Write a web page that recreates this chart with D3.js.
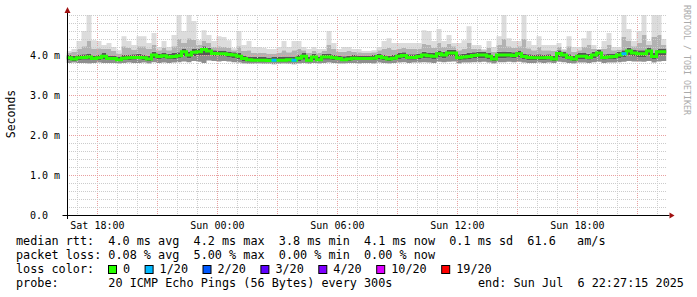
<!DOCTYPE html>
<html>
<head>
<meta charset="utf-8">
<script src="https://cdn.jsdelivr.net/npm/d3@7"></script>
<style>
  body { margin: 0; background: #fff; }
  text { font-family: "DejaVu Sans Mono", monospace; white-space: pre; }
</style>
</head>
<body>
<svg id="chart" width="697" height="297"></svg>
<script>
/**
 * Chart data, one value every 15 minutes (ms).
 */
var startTime = new Date(2025, 6, 5, 16, 27, 15);
var endTime = new Date(2025, 6, 6, 22, 27, 15);
var stepMinutes = 15;

var medianRtt = [
    3.93, 3.90, 3.93, 3.94, 3.95, 3.91, 3.93, 3.97, 3.91, 3.91,
    3.88, 3.92, 3.93, 3.94, 3.94, 3.93, 3.90, 4.00, 3.96, 3.98,
    3.95, 3.96, 3.98, 4.08, 4.00, 4.07, 4.08, 4.14, 4.10, 4.04,
    4.03, 4.03, 4.01, 4.00, 3.97, 3.91, 3.88, 3.87, 3.87, 3.87,
    3.86, 3.87, 3.87, 3.87, 3.88, 3.87, 3.92, 3.97, 3.87, 3.95,
    3.88, 3.95, 3.95, 3.93, 3.91, 3.88, 3.90, 3.92, 3.91, 3.91,
    3.91, 3.92, 3.96, 3.93, 3.90, 3.92, 3.97, 3.99, 3.94, 3.94,
    3.96, 4.00, 3.98, 3.97, 4.03, 4.00, 4.05, 4.05, 3.93, 3.95,
    3.96, 3.99, 4.00, 4.00, 3.97, 3.90, 4.00, 4.00, 4.00, 3.99,
    4.03, 3.96, 3.94, 3.93, 3.93, 3.93, 3.94, 3.90, 4.04, 4.00,
    3.94, 3.90, 3.97, 3.97, 3.94, 4.00, 4.05, 3.94, 3.95, 3.96,
    4.00, 4.03, 4.10, 4.05, 4.03, 4.03, 4.10, 3.96, 4.08, 4.08
];
var minPing = [
    3.80, 3.81, 3.80, 3.80, 3.79, 3.80, 3.81, 3.80, 3.80, 3.80,
    3.79, 3.80, 3.81, 3.80, 3.80, 3.81, 3.79, 3.82, 3.80, 3.81,
    3.80, 3.81, 3.82, 3.84, 3.82, 3.85, 3.83, 3.80, 3.86, 3.85,
    3.84, 3.85, 3.84, 3.82, 3.81, 3.79, 3.78, 3.78, 3.79, 3.78,
    3.78, 3.77, 3.78, 3.79, 3.78, 3.77, 3.79, 3.80, 3.78, 3.80,
    3.79, 3.80, 3.81, 3.80, 3.79, 3.79, 3.80, 3.80, 3.79, 3.80,
    3.80, 3.79, 3.81, 3.80, 3.79, 3.80, 3.81, 3.82, 3.80, 3.81,
    3.81, 3.82, 3.81, 3.80, 3.83, 3.82, 3.83, 3.84, 3.79, 3.81,
    3.81, 3.82, 3.82, 3.83, 3.81, 3.79, 3.82, 3.82, 3.83, 3.82,
    3.83, 3.81, 3.80, 3.80, 3.81, 3.80, 3.81, 3.80, 3.83, 3.82,
    3.80, 3.79, 3.81, 3.81, 3.80, 3.82, 3.83, 3.80, 3.81, 3.81,
    3.82, 3.83, 3.85, 3.84, 3.84, 3.83, 3.85, 3.81, 3.84, 3.85
];
var lowQuart = [
    3.87, 3.85, 3.87, 3.88, 3.88, 3.86, 3.87, 3.90, 3.86, 3.86,
    3.84, 3.87, 3.87, 3.88, 3.89, 3.87, 3.85, 3.91, 3.89, 3.91,
    3.89, 3.90, 3.91, 3.97, 3.92, 3.97, 3.98, 3.99, 4.00, 3.96,
    3.96, 3.96, 3.94, 3.92, 3.90, 3.85, 3.83, 3.83, 3.83, 3.83,
    3.82, 3.82, 3.83, 3.83, 3.83, 3.82, 3.85, 3.88, 3.83, 3.87,
    3.84, 3.88, 3.88, 3.87, 3.86, 3.84, 3.85, 3.87, 3.86, 3.86,
    3.86, 3.86, 3.89, 3.87, 3.85, 3.87, 3.90, 3.92, 3.88, 3.88,
    3.89, 3.92, 3.91, 3.90, 3.95, 3.92, 3.96, 3.96, 3.86, 3.88,
    3.89, 3.91, 3.92, 3.92, 3.90, 3.85, 3.92, 3.92, 3.93, 3.92,
    3.95, 3.89, 3.87, 3.87, 3.87, 3.87, 3.88, 3.85, 3.95, 3.92,
    3.88, 3.85, 3.90, 3.90, 3.88, 3.92, 3.96, 3.88, 3.89, 3.89,
    3.92, 3.95, 4.00, 3.96, 3.95, 3.95, 4.00, 3.90, 3.98, 3.99
];
var highQuart = [
    4.00, 3.98, 4.01, 4.02, 4.04, 3.99, 4.01, 4.05, 3.99, 3.99,
    3.96, 4.00, 4.01, 4.02, 4.03, 4.01, 3.98, 4.08, 4.04, 4.06,
    4.03, 4.05, 4.07, 4.16, 4.09, 4.16, 4.16, 4.22, 4.19, 4.12,
    4.11, 4.11, 4.09, 4.07, 4.05, 3.99, 3.96, 3.95, 3.95, 3.95,
    3.94, 3.95, 3.95, 3.96, 3.96, 3.96, 4.01, 4.05, 3.96, 4.03,
    3.96, 4.03, 4.04, 4.01, 3.99, 3.97, 3.98, 4.00, 3.99, 3.99,
    3.99, 4.00, 4.04, 4.01, 3.98, 4.00, 4.05, 4.07, 4.02, 4.02,
    4.04, 4.08, 4.06, 4.05, 4.11, 4.08, 4.13, 4.13, 4.02, 4.03,
    4.05, 4.07, 4.08, 4.08, 4.05, 3.99, 4.08, 4.09, 4.08, 4.07,
    4.11, 4.04, 4.02, 4.01, 4.02, 4.01, 4.02, 3.98, 4.12, 4.08,
    4.02, 3.98, 4.05, 4.06, 4.03, 4.08, 4.13, 4.02, 4.04, 4.04,
    4.08, 4.12, 4.18, 4.14, 4.12, 4.12, 4.19, 4.05, 4.16, 4.16
];
var ping90 = [
    4.06, 4.08, 4.15, 4.22, 4.35, 4.16, 4.17, 4.15, 4.15, 4.10,
    4.04, 4.22, 4.18, 4.14, 4.22, 4.22, 4.15, 4.25, 4.12, 4.18,
    4.12, 4.22, 4.40, 4.30, 4.42, 4.38, 4.25, 4.35, 4.30, 4.20,
    4.22, 4.20, 4.18, 4.12, 4.22, 4.10, 4.12, 4.05, 4.06, 4.05,
    4.04, 4.04, 4.06, 4.12, 4.07, 4.12, 4.15, 4.12, 4.05, 4.10,
    4.06, 4.10, 4.25, 4.15, 4.08, 4.08, 4.10, 4.08, 4.07, 4.06,
    4.06, 4.07, 4.12, 4.15, 4.18, 4.14, 4.16, 4.18, 4.15, 4.15,
    4.16, 4.28, 4.25, 4.18, 4.30, 4.20, 4.28, 4.22, 4.12, 4.15,
    4.30, 4.15, 4.15, 4.12, 4.18, 4.08, 4.25, 4.40, 4.22, 4.18,
    4.22, 4.40, 4.17, 4.12, 4.20, 4.12, 4.12, 4.10, 4.20, 4.12,
    4.22, 4.08, 4.12, 4.20, 4.25, 4.15, 4.15, 4.15, 4.25, 4.12,
    4.14, 4.45, 4.35, 4.22, 4.30, 4.50, 4.25, 4.45, 4.50, 4.25
];
var maxPing = [
    4.10, 4.15, 4.35, 4.60, 5.10, 4.37, 4.35, 4.25, 4.30, 4.20,
    4.12, 4.47, 4.35, 4.25, 4.47, 4.47, 4.30, 4.55, 4.20, 4.35,
    4.20, 4.50, 5.10, 4.60, 5.10, 4.85, 4.37, 4.62, 4.50, 4.35,
    4.47, 4.45, 4.37, 4.17, 4.60, 4.25, 4.35, 4.20, 4.20, 4.18,
    4.15, 4.15, 4.20, 4.35, 4.20, 4.35, 4.35, 4.20, 4.15, 4.20,
    4.15, 4.15, 4.60, 4.30, 4.15, 4.20, 4.20, 4.15, 4.15, 4.10,
    4.10, 4.12, 4.20, 4.35, 4.42, 4.30, 4.30, 4.30, 4.30, 4.30,
    4.30, 4.62, 4.60, 4.35, 4.65, 4.35, 4.50, 4.30, 4.30, 4.37,
    4.72, 4.25, 4.25, 4.15, 4.35, 4.20, 4.47, 5.10, 4.42, 4.35,
    4.35, 5.10, 4.35, 4.25, 4.47, 4.25, 4.25, 4.25, 4.30, 4.15,
    4.47, 4.20, 4.20, 4.42, 4.60, 4.25, 4.15, 4.35, 4.55, 4.20,
    4.20, 5.10, 4.65, 4.35, 4.60, 5.10, 4.35, 5.10, 5.10, 4.40
];
// lost pings out of 20 per step
var lossCount = [
    0, 0, 0, 0, 0, 0, 0, 0, 0, 0, 0, 0, 0, 0, 0, 0, 0, 0, 0, 0,
    0, 0, 0, 0, 0, 0, 0, 0, 0, 0, 0, 0, 0, 0, 0, 0, 0, 0, 0, 0,
    0, 1, 0, 0, 0, 1, 0, 0, 0, 0, 0, 0, 0, 0, 0, 0, 0, 0, 0, 0,
    0, 0, 0, 0, 0, 0, 0, 0, 0, 0, 0, 0, 0, 0, 0, 0, 0, 0, 0, 0,
    0, 0, 0, 0, 0, 0, 0, 0, 0, 0, 0, 0, 0, 0, 0, 0, 0, 0, 0, 0,
    0, 0, 0, 0, 0, 0, 0, 0, 0, 0, 0, 1, 0, 0, 0, 0, 0, 0, 0, 0
];

var yTicks = [0, 1, 2, 3, 4];
var yTickLabels = ["0.0", "1.0 m", "2.0 m", "3.0 m", "4.0 m"];
var lossLabels = ["0", "1/20", "2/20", "3/20", "4/20", "10/20", "19/20"];
var lossSteps = [0, 1, 2, 3, 4, 10, 19];
var lossColors = ["#26ff00", "#00b8ff", "#0059ff", "#5e00ff", "#7e00ff", "#dd00ff", "#ff0000"];
var legendLines = [
    "median rtt:  4.0 ms avg  4.2 ms max  3.8 ms min  4.1 ms now  0.1 ms sd  61.6   am/s",
    "packet loss: 0.08 % avg  5.00 % max  0.00 % min  0.00 % now",
    "loss color:",
    "probe:       20 ICMP Echo Pings (56 Bytes) every 300s"
];
var endLabel = "end: Sun Jul  6 22:27:15 2025";

var svg = d3.select("#chart");
var plotL = 66.5, plotR = 666.5, plotT = 15, plotB = 215;

var x = d3.scaleTime().domain([startTime, endTime]).range([plotL, plotR]);
var y = d3.scaleLinear().domain([0, 5]).range([plotB, plotT]);

// one row per step, last row repeated at the end time for the step curve
var rows = medianRtt.map(function(d, i) {
    return {
        t: d3.timeMinute.offset(startTime, i * stepMinutes),
        med: d, lo: minPing[i], q1: lowQuart[i], q3: highQuart[i],
        p90: ping90[i], hi: maxPing[i], loss: lossCount[i]
    };
});
rows.push(Object.assign({}, rows[rows.length - 1], {t: endTime}));

svg.append("clipPath").attr("id", "plot")
    .append("rect")
    .attr("x", plotL).attr("y", plotT)
    .attr("width", plotR - plotL).attr("height", plotB - plotT);

// smoke bands, darkest around the median
var bands = [
    ["lo", "q1", "#8e8e8e"],
    ["q1", "q3", "#575757"],
    ["q3", "p90", "#b2b2b2"],
    ["p90", "hi", "#dcdcdc"]
];
var smoke = svg.append("g").attr("clip-path", "url(#plot)");
bands.forEach(function(b) {
    smoke.append("path")
        .datum(rows)
        .attr("fill", b[2])
        .attr("d", d3.area()
            .curve(d3.curveStepAfter)
            .x(function(d) { return x(d.t); })
            .y0(function(d) { return y(d[b[0]]); })
            .y1(function(d) { return y(d[b[1]]); }));
});

// grid
var grid = svg.append("g").attr("shape-rendering", "crispEdges");
var hours = d3.timeHour.range(startTime, endTime);
hours.forEach(function(h) {
    var major = h.getHours() % 3 === 0;
    grid.append("line")
        .attr("x1", Math.round(x(h)) + 0.5).attr("x2", Math.round(x(h)) + 0.5)
        .attr("y1", plotT).attr("y2", plotB)
        .attr("stroke", major ? "#e8a0a0" : "#cccccc")
        .attr("stroke-dasharray", "1,1");
});
d3.range(1, 26).forEach(function(k) {
    var v = k / 5;
    var major = k % 5 === 0 && k < 25;
    grid.append("line")
        .attr("x1", plotL).attr("x2", plotR)
        .attr("y1", Math.round(y(v)) + 0.5).attr("y2", Math.round(y(v)) + 0.5)
        .attr("stroke", major ? "#e8a0a0" : "#cccccc")
        .attr("stroke-dasharray", "1,1");
});

// median line coloured by loss
var plot = svg.append("g").attr("clip-path", "url(#plot)");
plot.append("path")
    .datum(rows)
    .attr("fill", "none")
    .attr("stroke", lossColors[0])
    .attr("stroke-width", 3)
    .attr("d", d3.line()
        .curve(d3.curveStepAfter)
        .x(function(d) { return x(d.t); })
        .y(function(d) { return y(d.med); }));
rows.slice(0, -1).forEach(function(d, i) {
    if (!d.loss) return;
    var c = lossColors[lossSteps.findIndex(function(s) { return s >= d.loss; })];
    plot.append("line")
        .attr("x1", x(d.t)).attr("x2", x(rows[i + 1].t))
        .attr("y1", y(d.med)).attr("y2", y(d.med))
        .attr("stroke", c).attr("stroke-width", 3);
});

// axes
var axisX = Math.round(plotL) + 0.5;
svg.append("line")
    .attr("x1", axisX).attr("x2", axisX)
    .attr("y1", plotB + 4).attr("y2", 12)
    .attr("stroke", "#000");
svg.append("line")
    .attr("x1", plotL - 4).attr("x2", plotR + 3)
    .attr("y1", plotB + 0.5).attr("y2", plotB + 0.5)
    .attr("stroke", "#000");
svg.append("path")
    .attr("d", "M" + (axisX - 3) + ",13L" + axisX + ",7L" + (axisX + 3) + ",13Z")
    .attr("fill", "#a01010");
svg.append("path")
    .attr("d", "M" + (plotR + 3) + "," + (plotB - 2.5) + "L" + (plotR + 8) + "," + (plotB + 0.5) +
        "L" + (plotR + 3) + "," + (plotB + 3.5) + "Z")
    .attr("fill", "#a01010");

svg.append("g").selectAll("text")
    .data(yTicks)
    .enter().append("text")
    .attr("x", 30)
    .attr("y", function(d) { return y(d); })
    .attr("dy", "0.35em")
    .style("font-size", "10px")
    .attr("fill", "#000")
    .text(function(d, i) { return yTickLabels[i]; });

svg.append("g").selectAll("text")
    .data(hours.filter(function(h) { return h.getHours() % 6 === 0; }))
    .enter().append("text")
    .attr("x", function(d) { return x(d); })
    .attr("y", 229)
    .attr("text-anchor", "middle")
    .style("font-size", "10px")
    .text(d3.timeFormat("%a %H:%M"));

svg.append("text")
    .attr("transform", "translate(15,114) rotate(-90)")
    .attr("text-anchor", "middle")
    .style("font-size", "11.5px")
    .text("Seconds");

svg.append("text")
    .attr("transform", "translate(684,5) rotate(90)")
    .style("font-size", "8.3px")
    .attr("fill", "#aaa")
    .text("RRDTOOL / TOBI OETIKER");

// legend
var cw = 7.1, lx = 16;
svg.append("g").selectAll("text")
    .data(legendLines)
    .enter().append("text")
    .attr("x", lx)
    .attr("y", function(d, i) { return 245 + i * 14; })
    .style("font-size", "11.8px")
    .text(function(d) { return d; });
svg.append("text")
    .attr("x", 478).attr("y", 287)
    .style("font-size", "11.8px")
    .text(endLabel);

var labelX = 123;
lossLabels.forEach(function(l, i) {
    svg.append("rect")
        .attr("x", labelX - 14.5).attr("y", 265.5)
        .attr("width", 8).attr("height", 8)
        .attr("fill", lossColors[i]).attr("stroke", "#000");
    svg.append("text")
        .attr("x", labelX).attr("y", 273)
        .style("font-size", "11.8px")
        .text(l);
    labelX += l.length * cw + 29.5;
});
</script>
</body>
</html>
